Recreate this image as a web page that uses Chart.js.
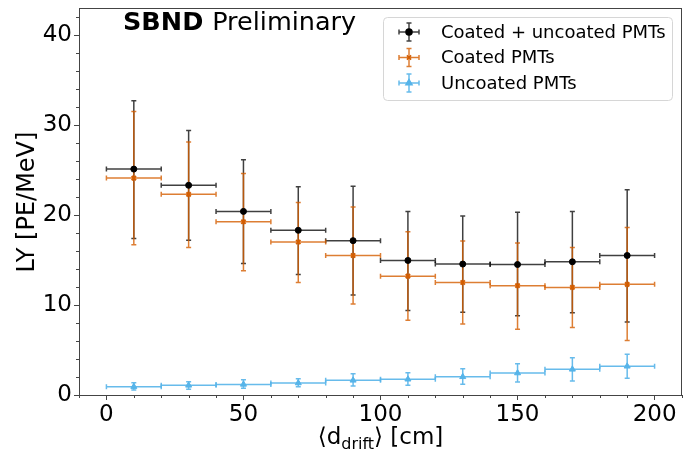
<!DOCTYPE html>
<html>
<head>
<meta charset="utf-8">
<script src="https://cdn.jsdelivr.net/npm/chart.js@4"></script>
<style>
  html, body { margin: 0; padding: 0; background: #fff; }
  #wrap { width: 683px; height: 450px; }
</style>
</head>
<body>
<div id="wrap"><canvas id="ly"></canvas></div>
<script>
// drift distance bins [cm]
const driftCentres = [10, 30, 50, 70, 90, 110, 130, 150, 170, 190];
const driftHalfWidths = [10, 10, 10, 10, 10, 10, 10, 10, 10, 10];

// coated + uncoated PMTs
const lyAll   = [25.1, 23.3, 20.4, 18.3, 17.15, 14.95, 14.55, 14.5, 14.8, 15.5];
const lyAllHi = [32.7, 29.4, 26.15, 23.15, 23.2, 20.4, 19.9, 20.3, 20.4, 22.8];
const lyAllLo = [17.4, 17.2, 14.6, 13.4, 11.1, 9.4, 9.2, 8.8, 9.15, 8.1];

// coated PMTs
const lyCoated   = [24.1, 22.3, 19.25, 17.0, 15.5, 13.2, 12.5, 12.15, 11.95, 12.3];
const lyCoatedHi = [31.5, 28.1, 24.6, 21.4, 20.9, 18.15, 17.1, 16.9, 16.4, 18.6];
const lyCoatedLo = [16.7, 16.4, 13.8, 12.5, 10.1, 8.3, 7.9, 7.3, 7.5, 6.05];

// uncoated PMTs
const lyUncoated   = [0.93, 1.07, 1.18, 1.33, 1.63, 1.75, 2.02, 2.44, 2.85, 3.19];
const lyUncoatedHi = [1.37, 1.48, 1.7, 1.81, 2.37, 2.48, 2.93, 3.48, 4.14, 4.52];
const lyUncoatedLo = [0.56, 0.63, 0.74, 0.93, 1.0, 1.07, 1.19, 1.44, 1.56, 1.85];

const seriesLabels = ["Coated + uncoated PMTs", "Coated PMTs", "Uncoated PMTs"];
const xTicks = [0, 50, 100, 150, 200];
const yTicks = [0, 10, 20, 30, 40];

const FONT = "'DejaVu Sans', sans-serif";

const makeSet = (label, ys, hi, lo, color, barColor, style, radius) => ({
  label: label,
  data: driftCentres.map((x, i) => ({ x: x, y: ys[i], xLo: x - driftHalfWidths[i], xHi: x + driftHalfWidths[i], yLo: lo[i], yHi: hi[i] })),
  backgroundColor: color,
  borderColor: color,
  barColor: barColor,
  pointStyle: style,
  pointRadius: radius,
  pointBorderWidth: style === "crossRot" ? 2 : 1,
  showLine: false,
});

// no extra room for tick labels, the plot area is fixed by the layout padding
const noPad = s => { s.paddingTop = 0; s.paddingBottom = 0; s.paddingLeft = 0; s.paddingRight = 0; };

// error bars, drawn under the markers
const errorBars = {
  id: "errorBars",
  beforeDatasetsDraw(chart) {
    const ctx = chart.ctx, xs = chart.scales.x, ys = chart.scales.y;
    const cap = 2.5;
    ctx.save();
    chart.data.datasets.forEach(ds => {
      ctx.strokeStyle = ds.barColor;
      ctx.lineWidth = 1.5;
      ds.data.forEach(p => {
        const px = xs.getPixelForValue(p.x), py = ys.getPixelForValue(p.y);
        const x0 = xs.getPixelForValue(p.xLo), x1 = xs.getPixelForValue(p.xHi);
        const y0 = ys.getPixelForValue(p.yLo), y1 = ys.getPixelForValue(p.yHi);
        ctx.beginPath();
        ctx.moveTo(x0, py); ctx.lineTo(x1, py);
        ctx.moveTo(x0, py - cap); ctx.lineTo(x0, py + cap);
        ctx.moveTo(x1, py - cap); ctx.lineTo(x1, py + cap);
        ctx.moveTo(px, y0); ctx.lineTo(px, y1);
        ctx.moveTo(px - cap, y0); ctx.lineTo(px + cap, y0);
        ctx.moveTo(px - cap, y1); ctx.lineTo(px + cap, y1);
        ctx.stroke();
      });
    });
    ctx.restore();
  }
};

// frame, minor ticks, axis titles, label and legend
const decorations = {
  id: "decorations",
  afterDraw(chart) {
    const ctx = chart.ctx, a = chart.chartArea, xs = chart.scales.x, ys = chart.scales.y;
    ctx.save();
    ctx.strokeStyle = "#444";
    ctx.lineWidth = 1;
    ctx.strokeRect(a.left + 0.5, a.top + 0.5, a.right - a.left - 1, a.bottom - a.top);

    ctx.beginPath();
    for (let v = -10; v <= 210; v += 10) {
      if (v % 50 === 0) continue;
      const px = Math.round(xs.getPixelForValue(v)) + 0.5;
      ctx.moveTo(px, a.bottom); ctx.lineTo(px, a.bottom + 3);
    }
    for (let v = 0; v <= 43; v += 2) {
      if (v % 10 === 0) continue;
      const py = Math.round(ys.getPixelForValue(v)) + 0.5;
      ctx.moveTo(a.left, py); ctx.lineTo(a.left - 3, py);
    }
    ctx.stroke();

    ctx.fillStyle = "#000";
    // y title
    ctx.save();
    ctx.translate(28, 202);
    ctx.rotate(-Math.PI / 2);
    ctx.font = "24px " + FONT;
    ctx.textAlign = "center";
    ctx.textBaseline = "middle";
    ctx.fillText("LY [PE/MeV]", 0, 0);
    ctx.restore();

    // x title with subscript
    ctx.textBaseline = "alphabetic";
    ctx.textAlign = "left";
    const big = "23px " + FONT, small = "16px " + FONT;
    ctx.font = big; const w1 = ctx.measureText("\u27E8d").width;
    ctx.font = small; const w2 = ctx.measureText("drift").width;
    ctx.font = big; const w3 = ctx.measureText("\u27E9 [cm]").width;
    let tx = (a.left + a.right) / 2 - (w1 + w2 + w3) / 2;
    const ty = 444;
    ctx.font = big; ctx.fillText("\u27E8d", tx, ty); tx += w1;
    ctx.font = small; ctx.fillText("drift", tx, ty + 5); tx += w2;
    ctx.font = big; ctx.fillText("\u27E9 [cm]", tx, ty);

    // experiment label
    ctx.font = "bold 25.5px " + FONT;
    ctx.fillText("SBND", 123, 30);
    const wb = ctx.measureText("SBND ").width;
    ctx.font = "25.5px " + FONT;
    ctx.fillText("Preliminary", 123 + wb, 30);

    // legend
    const lx = 383.5, ly = 17.5, lw = 289, lh = 83;
    ctx.beginPath();
    ctx.roundRect(lx, ly, lw, lh, 4);
    ctx.fillStyle = "rgba(255,255,255,0.8)";
    ctx.fill();
    ctx.strokeStyle = "#d6d6d6";
    ctx.stroke();
    const rows = [32, 57.5, 83];
    chart.data.datasets.forEach((ds, i) => {
      const cx = 409, cy = rows[i];
      ctx.strokeStyle = ds.barColor;
      ctx.lineWidth = 1.5;
      ctx.beginPath();
      ctx.moveTo(cx - 10, cy); ctx.lineTo(cx + 10, cy);
      ctx.moveTo(cx - 10, cy - 2.5); ctx.lineTo(cx - 10, cy + 2.5);
      ctx.moveTo(cx + 10, cy - 2.5); ctx.lineTo(cx + 10, cy + 2.5);
      ctx.moveTo(cx, cy - 9); ctx.lineTo(cx, cy + 9);
      ctx.moveTo(cx - 2.5, cy - 9); ctx.lineTo(cx + 2.5, cy - 9);
      ctx.moveTo(cx - 2.5, cy + 9); ctx.lineTo(cx + 2.5, cy + 9);
      ctx.stroke();
      ctx.fillStyle = ds.backgroundColor;
      ctx.strokeStyle = ds.borderColor;
      Chart.helpers.drawPoint(ctx, {
        pointStyle: ds.pointStyle, radius: ds.pointRadius, borderWidth: ds.pointBorderWidth
      }, cx, cy);
      ctx.fillStyle = "#000";
      ctx.font = "18px " + FONT;
      ctx.textBaseline = "middle";
      ctx.fillText(ds.label, 441, cy + 1);
    });
    ctx.restore();
  }
};

const ctx = document.getElementById("ly").getContext("2d");
const lyChart = new Chart(ctx, {
  type: "scatter",
  data: {
    datasets: [
      makeSet(seriesLabels[0], lyAll, lyAllHi, lyAllLo, "#000000", "rgba(0,0,0,0.75)", "circle", 3),
      makeSet(seriesLabels[1], lyCoated, lyCoatedHi, lyCoatedLo, "#d55e00", "rgba(213,94,0,0.8)", "crossRot", 3),
      makeSet(seriesLabels[2], lyUncoated, lyUncoatedHi, lyUncoatedLo, "#56b4e9", "rgba(86,180,233,0.9)", "triangle", 3.5),
    ],
  },
  options: {
    responsive: true,
    maintainAspectRatio: false,
    animation: false,
    layout: { autoPadding: false, padding: { top: 8, right: 1, left: 0, bottom: 0 } },
    plugins: {
      legend: { display: false },
      tooltip: { enabled: false },
    },
    scales: {
      x: {
        type: "linear",
        min: -10,
        max: 210,
        afterBuildTicks: s => { s.ticks = xTicks.map(v => ({ value: v })); },
        afterFit: s => { s.height = 55; noPad(s); },
        border: { display: true, color: "#444", width: 1 },
        grid: { drawOnChartArea: false, drawTicks: true, tickLength: 5, color: "#444" },
        ticks: { font: { family: FONT, size: 23 }, color: "#000", padding: 1, maxRotation: 0 },
      },
      y: {
        type: "linear",
        min: 0,
        max: 43,
        afterBuildTicks: s => { s.ticks = yTicks.map(v => ({ value: v })); },
        afterFit: s => { s.width = 79; noPad(s); },
        border: { display: true, color: "#444", width: 1 },
        grid: { drawOnChartArea: false, drawTicks: true, tickLength: 5, color: "#444" },
        ticks: { font: { family: FONT, size: 23 }, color: "#000", padding: 2 },
      },
    },
  },
  plugins: [errorBars, decorations],
});
</script>
</body>
</html>
